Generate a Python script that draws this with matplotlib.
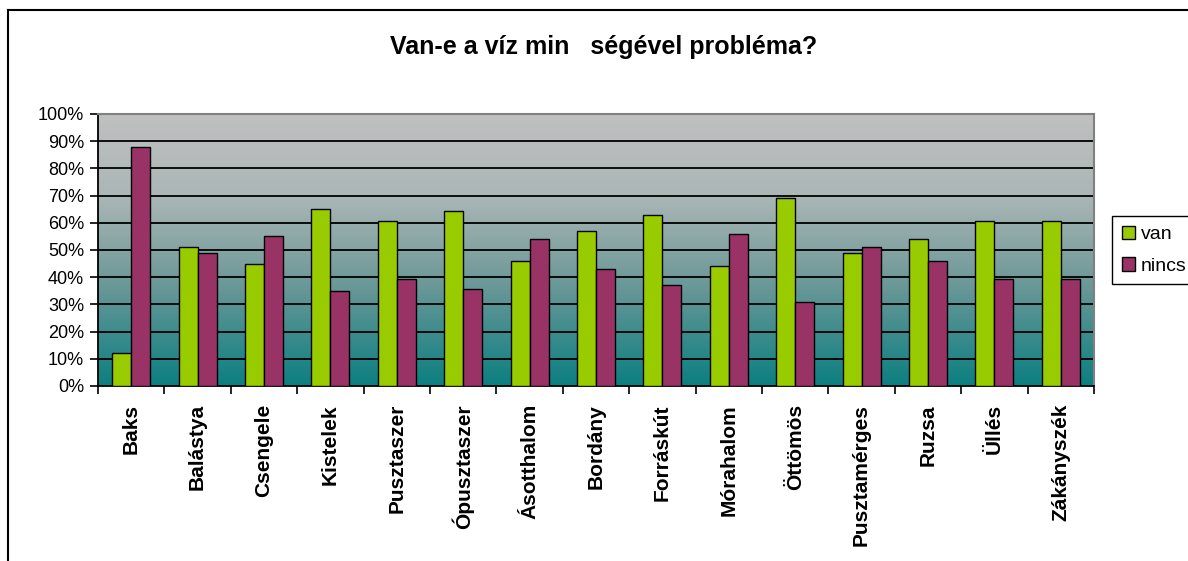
import numpy as np
import matplotlib
matplotlib.use("Agg")
import matplotlib.pyplot as plt
from matplotlib.colors import LinearSegmentedColormap
from matplotlib.lines import Line2D

plt.rcParams['font.family'] = ['Liberation Sans', 'DejaVu Sans']

towns = ["Baks", "Balástya", "Csengele", "Kistelek", "Pusztaszer", "Ópusztaszer",
         "Ásotthalom", "Bordány", "Forráskút", "Mórahalom", "Öttömös",
         "Pusztamérges", "Ruzsa", "Üllés", "Zákányszék"]
van = [12, 51, 45, 65, 60.6, 64.3, 46, 57, 63, 44, 69, 49, 54, 60.6, 60.6]
nincs = [88, 49, 55, 35, 39.4, 35.7, 54, 43, 37, 56, 31, 51, 46, 39.4, 39.4]
yticks = list(range(0, 101, 10))

fig = plt.figure(figsize=(11.88, 5.61), dpi=100)
ax = fig.add_axes([98 / 1188, 1 - 386 / 561, 996 / 1188, 272 / 561])

n = len(towns)
x = np.arange(n)
w = 0.286

# gradient background silver (top) -> teal (bottom)
cmap = LinearSegmentedColormap.from_list("bg", [(0, "#c0c0c0"), (0.3, "#abb6b6"),
                                                (0.6, "#729a9a"), (1, "#0c7f80")])
grad = np.linspace(0, 1, 256).reshape(-1, 1)
ax.imshow(grad, aspect="auto", cmap=cmap, extent=(-0.5, n - 0.5, 0, 100),
          origin="upper", zorder=0)

for t in yticks[1:-1]:
    ax.axhline(t, color="black", lw=1.3, zorder=1)

ax.bar(x - w / 2, van, w, color="#99cc00", edgecolor="black", lw=1.0, zorder=3, label="van")
ax.bar(x + w / 2, nincs, w, color="#993366", edgecolor="black", lw=1.0, zorder=3, label="nincs")

ax.set_xlim(-0.5, n - 0.5)
ax.set_ylim(0, 100)
ax.set_yticks(yticks)
ax.set_yticklabels([f"{t}%" for t in yticks], fontsize=13)
ax.set_xticks(np.arange(n + 1) - 0.5)
ax.set_xticklabels([])
ax.set_xticks(x, minor=True)
ax.set_xticklabels(towns, minor=True, rotation=90, fontsize=15, fontweight="bold",
                   va="top", ha="center")
ax.tick_params(axis="x", which="minor", length=0, pad=13)
ax.tick_params(axis="both", which="major", direction="out", length=6, width=1.2, color="black")
ax.tick_params(axis="y", pad=4)

for s in ["left", "bottom"]:
    ax.spines[s].set_color("black")
    ax.spines[s].set_linewidth(1.3)
for s in ["top", "right"]:
    ax.spines[s].set_color("#808080")
    ax.spines[s].set_linewidth(1.5)

fig.text(604 / 1188, 1 - 47 / 561, "Van-e a víz min   ségével probléma?",
         fontsize=18, fontweight="bold", ha="center", va="center")

leg = fig.legend(loc="upper left", bbox_to_anchor=(1112 / 1188, 1 - 216 / 561),
                 bbox_transform=fig.transFigure, borderaxespad=0, fontsize=14,
                 fancybox=False, edgecolor="black", framealpha=1,
                 handlelength=0.7, handleheight=0.7, handletextpad=0.3,
                 labelspacing=0.7, borderpad=0.5)
leg.get_frame().set_linewidth(1.0)

# outer chart border (left and top visible)
fig.add_artist(Line2D([8 / 1188, 8 / 1188], [0, 1 - 10 / 561], color="black", lw=1.5,
                      transform=fig.transFigure))
fig.add_artist(Line2D([8 / 1188, 1], [1 - 10 / 561, 1 - 10 / 561], color="black", lw=1.5,
                      transform=fig.transFigure))

fig.savefig("out.png", dpi=100)
